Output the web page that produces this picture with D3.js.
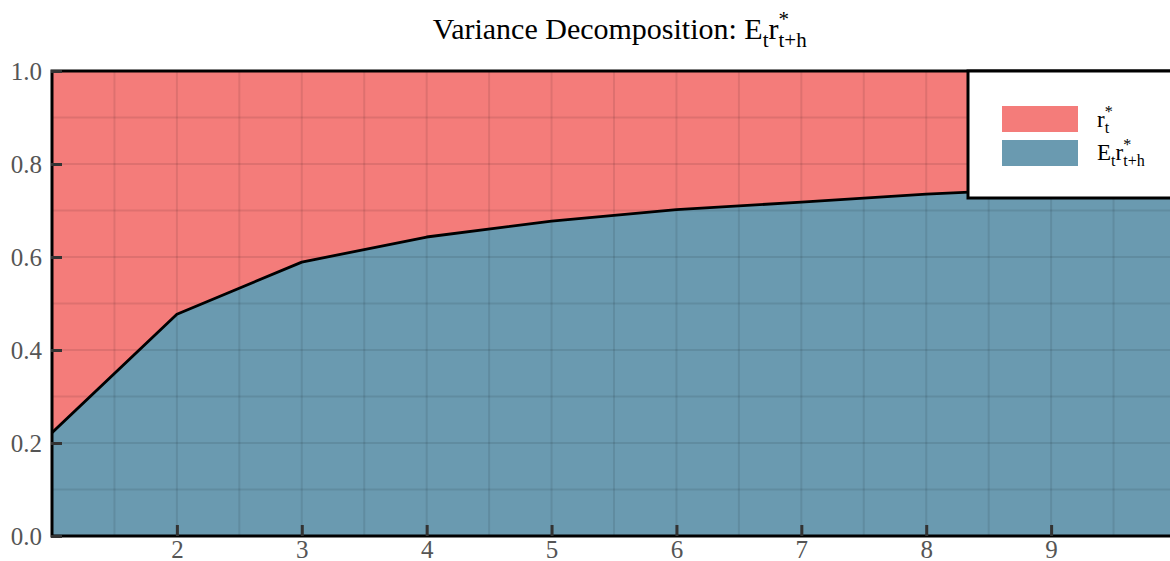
<!DOCTYPE html>
<html><head><meta charset="utf-8">
<script src="https://cdn.jsdelivr.net/npm/d3@7"></script>
<style>body{margin:0;background:#fff}svg{display:block}text{font-family:"Liberation Serif","Times New Roman",serif}</style>
</head><body>
<svg id="c" width="1170" height="561"></svg>
<script>
const horizons = [1, 2, 3, 4, 5, 6, 7, 8, 9, 10];
const shareExpected = [0.222, 0.477, 0.589, 0.643, 0.677, 0.702, 0.718, 0.735, 0.748, 0.758];
const xTicks = [2, 3, 4, 5, 6, 7, 8, 9];
const yTicks = [0.0, 0.2, 0.4, 0.6, 0.8, 1.0];
const seriesNames = ["r*_t", "E_t r*_t+h"];
const colors = ["#F47C7A", "#6A9AB0"];

const svg = d3.select("#c");
const L = 52, R = 1176, T = 71, B = 536;
const x = d3.scaleLinear().domain([1, 10]).range([L, R]);
const y = d3.scaleLinear().domain([0, 1]).range([B, T]);
const data = horizons.map((h, i) => ({h, v: shareExpected[i]}));

svg.append("clipPath").attr("id", "clip").append("rect")
  .attr("x", L).attr("y", T).attr("width", R - L).attr("height", B - T);
const plot = svg.append("g").attr("clip-path", "url(#clip)");

plot.append("path").datum(data).attr("fill", colors[0])
  .attr("d", d3.area().x(d => x(d.h)).y0(d => y(d.v)).y1(() => y(1)));
plot.append("path").datum(data).attr("fill", colors[1])
  .attr("d", d3.area().x(d => x(d.h)).y0(() => y(0)).y1(d => y(d.v)));

// grid
const gx = d3.range(1.5, 10, 0.5);
const gy = d3.range(0.1, 1.0, 0.1);
plot.append("g").selectAll("line").data(gx).join("line")
  .attr("x1", d => x(d)).attr("x2", d => x(d)).attr("y1", T).attr("y2", B)
  .attr("stroke", "rgba(0,0,0,0.09)").attr("stroke-width", 2);
plot.append("g").selectAll("line").data(gy).join("line")
  .attr("y1", d => y(d)).attr("y2", d => y(d)).attr("x1", L).attr("x2", R)
  .attr("stroke", "rgba(0,0,0,0.09)").attr("stroke-width", 2);

plot.append("path").datum(data).attr("fill", "none").attr("stroke", "#000")
  .attr("stroke-width", 2.8).attr("stroke-linejoin", "round")
  .attr("d", d3.line().x(d => x(d.h)).y(d => y(d.v)));

// frame
svg.append("rect").attr("x", L).attr("y", T).attr("width", R - L).attr("height", B - T)
  .attr("fill", "none").attr("stroke", "#000").attr("stroke-width", 3);

// axes
const yAxis = d3.axisLeft(y).tickValues(yTicks).tickFormat(d3.format(".1f")).tickSize(-11).tickPadding(20);
const gyA = svg.append("g").attr("transform", `translate(${L - 1},0)`).call(yAxis);
const xAxis = d3.axisBottom(x).tickValues(xTicks).tickFormat(d3.format("d")).tickSize(-11).tickPadding(20);
const gxA = svg.append("g").attr("transform", `translate(0,${B})`).call(xAxis);
[gyA, gxA].forEach(g => {
  g.attr("font-family", null).attr("font-size", null);
  g.select(".domain").remove();
  g.selectAll(".tick line").attr("stroke", "#333").attr("stroke-width", 3);
  g.selectAll(".tick text").attr("fill", "#555")
    .style("font-family", '"Liberation Serif", serif').style("font-size", "25px");
});
gyA.selectAll(".tick text").attr("dy", "0.33em").attr("x", -9);
gxA.selectAll(".tick text").attr("y", 0).attr("dy", 0).attr("transform", "translate(0,22)");

// rich text helper
function rich(parent, pieces, size, anchorX, baseY, align) {
  const g = parent.append("g");
  let cx = 0;
  pieces.forEach(p => {
    const fs = p.sub || p.sup ? size * 0.7 : size;
    const dy = p.sub ? size * 0.28 : p.sup ? -size * 0.45 : 0;
    const t = g.append("text").attr("x", cx).attr("y", baseY + dy)
      .style("font-family", '"Liberation Serif", serif').style("font-size", fs + "px")
      .attr("fill", "#000").text(p.t);
    const w = t.node().getComputedTextLength();
    if (!p.stack) cx += w;
  });
  const bb = g.node().getBBox();
  const off = align === "middle" ? anchorX - bb.width / 2 : anchorX;
  g.attr("transform", `translate(${off},0)`);
  return g;
}

rich(svg, [{t: "Variance Decomposition: E"}, {t: "t", sub: true}, {t: "r"}, {t: "*", sup: true, stack: true}, {t: "t+h", sub: true}], 30, 620, 39, "middle");

// legend
const lg = svg.append("g");
lg.append("rect").attr("x", 968).attr("y", T).attr("width", 240).attr("height", 127)
  .attr("fill", "#fff").attr("stroke", "#000").attr("stroke-width", 3);
const legendLabels = [
  [{t: "r"}, {t: "*", sup: true, stack: true}, {t: "t", sub: true}],
  [{t: "E"}, {t: "t", sub: true}, {t: "r"}, {t: "*", sup: true, stack: true}, {t: "t+h", sub: true}]
];
seriesNames.forEach((n, i) => {
  lg.append("rect").attr("x", 1002).attr("y", 106 + i * 34).attr("width", 76).attr("height", 26)
    .attr("fill", colors[i]);
  rich(lg, legendLabels[i], 23, 1097, 127 + i * 33, "start");
});
</script>
</body></html>
